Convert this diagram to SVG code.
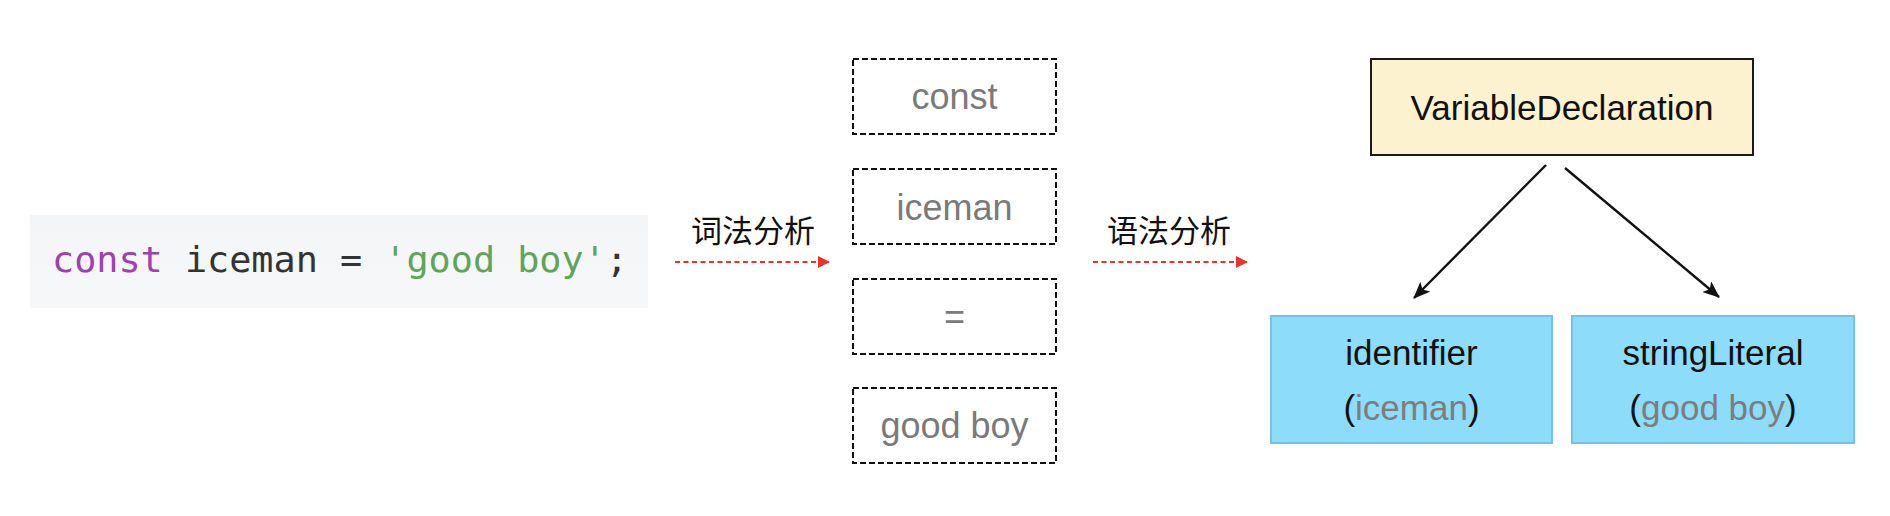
<svg xmlns="http://www.w3.org/2000/svg" width="1890" height="516" viewBox="0 0 1890 516">
  <defs>
    <style>
      .dash { fill: #ffffff; stroke: #111111; stroke-width: 2; stroke-dasharray: 6 3; }
      .tok { font-family: "Liberation Sans", Arial, sans-serif; font-size: 36px; fill: #7a7a7a; text-anchor: middle; }
      .lbl { font-family: "Noto Sans CJK SC", "Noto Sans", sans-serif; font-size: 31px; fill: #111111; text-anchor: middle; }
      .red { stroke: #e8322a; stroke-width: 2; stroke-dasharray: 5 3.5; fill: none; }
      .blk { stroke: #111111; stroke-width: 2.4; fill: none; }
      .node { font-family: "Liberation Sans", Arial, sans-serif; font-size: 35px; fill: #111111; text-anchor: middle; }
      .gray { fill: #7d7d7d; }
      .blue { fill: #8cdcfa; stroke: #74c2ec; stroke-width: 2; }
      .code { font-family: "DejaVu Sans Mono", "Liberation Mono", monospace; font-size: 36px; fill: #333333; }
    </style>
    <marker id="redHead" markerWidth="12" markerHeight="12" refX="11" refY="6" orient="auto" markerUnits="userSpaceOnUse">
      <path d="M0,0 L12,6 L0,12 Z" fill="#e8322a"/>
    </marker>
    <marker id="blkHead" markerWidth="18" markerHeight="14" refX="16" refY="7" orient="auto" markerUnits="userSpaceOnUse">
      <path d="M0,0 L17,7 L0,14 L4,7 Z" fill="#111111"/>
    </marker>
    <linearGradient id="codeBg" x1="0" y1="0" x2="0" y2="1">
      <stop offset="0" stop-color="#f4f5f7"/>
      <stop offset="1" stop-color="#f6f7f9"/>
    </linearGradient>
  </defs>
  <rect width="1890" height="516" fill="#ffffff"/>

  <g id="code">
    <rect x="30" y="215" width="618" height="93" fill="url(#codeBg)"/>
    <text class="code" x="52" y="272" textLength="576" lengthAdjust="spacingAndGlyphs"><tspan fill="#a03fb2">const</tspan> iceman = <tspan fill="#5ea55a">'good boy'</tspan>;</text>
  </g>

  <g id="label-lexical">
    <text class="lbl" x="753" y="242">词法分析</text>
  </g>
  <g id="label-syntax">
    <text class="lbl" x="1169" y="242">语法分析</text>
  </g>

  <g id="token-const">
    <rect class="dash" x="853" y="59" width="203" height="75"/>
    <text class="tok" x="954.5" y="109">const</text>
  </g>
  <g id="token-iceman">
    <rect class="dash" x="853" y="169" width="203" height="75"/>
    <text class="tok" x="954.5" y="220">iceman</text>
  </g>
  <g id="token-eq">
    <rect class="dash" x="853" y="279" width="203" height="75"/>
    <text class="tok" x="954.5" y="329">=</text>
  </g>
  <g id="token-goodboy">
    <rect class="dash" x="853" y="388" width="203" height="75"/>
    <text class="tok" x="954.5" y="438">good boy</text>
  </g>

  <g id="node-variable-declaration">
    <rect x="1371" y="59" width="382" height="96" fill="#fcf2d0" stroke="#1a1a1a" stroke-width="2"/>
    <text class="node" x="1562" y="120">VariableDeclaration</text>
  </g>

  <g id="node-identifier">
    <rect class="blue" x="1271" y="316" width="281" height="127"/>
    <text class="node" x="1411.5" y="365">identifier</text>
    <text class="node" x="1411.5" y="420">(<tspan class="gray">iceman</tspan>)</text>
  </g>

  <g id="node-string-literal">
    <rect class="blue" x="1572" y="316" width="282" height="127"/>
    <text class="node" x="1713" y="365">stringLiteral</text>
    <text class="node" x="1713" y="420">(<tspan class="gray">good boy</tspan>)</text>
  </g>

  <g id="connectors">
    <line class="red" x1="675" y1="262" x2="829" y2="262" marker-end="url(#redHead)"/>
    <line class="red" x1="1093" y1="262" x2="1247" y2="262" marker-end="url(#redHead)"/>
    <line class="blk" x1="1546" y1="165" x2="1414" y2="298" marker-end="url(#blkHead)"/>
    <line class="blk" x1="1565" y1="168" x2="1719" y2="297" marker-end="url(#blkHead)"/>
  </g>
</svg>
